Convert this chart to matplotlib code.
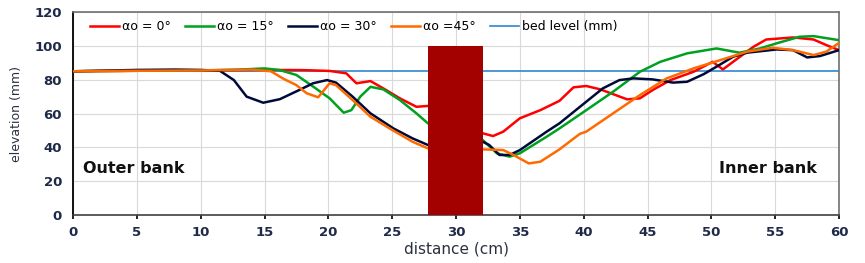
"""
Bed elevation profiles across the channel for several
inflow angles, with the pier block in the middle.
"""

import matplotlib.pyplot as plt

# ============================================================
# Data
# ============================================================

x_a0 = [0, 5, 10, 15, 18, 20.1, 21.4, 22.2, 23.3, 24.3, 25.6, 26.9, 27.8,
        32.1, 32.9, 33.7, 35.0, 36.6, 38.1, 39.2, 40.2, 41.3, 43.4, 44.4,
        45.4, 46.8, 48.6, 50.1, 50.9, 51.7, 53.3, 54.3, 56.4, 58.0, 59.0, 60]
y_a0 = [85, 85.3, 85.5, 85.8, 85.7, 85.2, 83.8, 77.9, 79.2, 74.9, 69, 64, 64.5,
        48.3, 46.7, 49.3, 57.2, 62, 67.5, 75.5, 76.3, 74.3, 68.4, 69,
        73.9, 79.8, 84.7, 90.6, 86.1, 90.6, 99.5, 103.8, 105, 103.8, 100.5, 97.5]

x_a15 = [0, 5, 10, 13, 15, 16.2, 17.5, 18.8, 20.1, 21.2, 21.8, 22.5, 23.3,
         24.3, 25.6, 26.9, 27.8, 32.1, 33.2, 34.2, 35.0, 37.1, 38.1, 40.2,
         42.3, 44.4, 46.0, 48.1, 50.4, 52.2, 53.8, 55.1, 56.9, 58.0, 60]
y_a15 = [85, 85.3, 85.5, 86, 86.7, 85.7, 82.8, 76, 69, 60.5, 62, 70, 75.8,
         74.3, 68, 60.1, 54.2, 44.3, 36.5, 34.5, 36.5, 46.3, 51.2, 62,
         72.9, 84.7, 90.6, 95.6, 98.5, 96, 98.5, 101.5, 105.4, 105.8, 103.4]

x_a30 = [0, 5, 8, 10, 11.5, 12.6, 13.6, 14.9, 16.2, 17.8, 18.8, 19.9, 20.6,
         21.9, 23.3, 25.1, 26.6, 27.8, 32.1, 32.6, 33.4, 34.2, 35.0, 37.1,
         38.1, 40.2, 41.5, 42.8, 43.9, 45.4, 47.0, 48.1, 49.4, 50.4, 51.7,
         52.8, 55.1, 56.4, 57.5, 58.5, 60]
y_a30 = [85, 85.8, 86, 85.8, 85.3, 79.8, 70, 66.4, 68.5, 74.2, 77.9, 79.8, 78.3,
         70, 60.1, 51.2, 45.3, 41.4, 43.3, 41.4, 35.5, 35.5, 38.4, 49.3,
         54.2, 67, 74.9, 79.8, 80.8, 80.2, 78.3, 78.8, 83.3, 87.7, 93.6,
         96, 97.9, 97.5, 93.2, 94, 97.5]

x_a45 = [0, 5, 10, 14, 15.5, 16.5, 17.5, 18.3, 19.2, 20.1, 20.6, 21.9, 23.3,
         24.8, 26.6, 27.8, 32.1, 33.7, 34.5, 35.7, 36.6, 38.1, 39.7, 40.2,
         42.3, 44.4, 46.5, 48.6, 50.7, 52.8, 54.8, 56.4, 58.0, 59.0, 60]
y_a45 = [85, 85.3, 85.5, 86, 85, 80.5, 76.8, 72, 69.6, 77.9, 76.8, 68, 58.1,
         51.2, 43.3, 39.4, 38.8, 38.4, 35.5, 30.5, 31.5, 38.8, 48, 49.3,
         60.1, 70.9, 80.8, 86.7, 91.6, 96.6, 98.9, 97.5, 94.6, 96.6, 101.8]

bed_level = 85

pier_left = 27.8
pier_right = 32.1
pier_height = 100

series = [
    ("αo = 0°", x_a0, y_a0, "#ff0000"),
    ("αo = 15°", x_a15, y_a15, "#00a020"),
    ("αo = 30°", x_a30, y_a30, "#000a3a"),
    ("αo =45°", x_a45, y_a45, "#ff6a00"),
]

NARROW = ["Liberation Sans Narrow", "DejaVu Sans"]


# ============================================================
# Plot
# ============================================================

def make_plot():

    fig = plt.figure(figsize=(8.65, 2.63), dpi=100)
    ax = fig.add_axes([0.0844, 0.1825, 0.8856, 0.7715])

    for label, xs, ys, color in series:
        ax.plot(xs, ys, color=color, lw=1.8, label=label,
                solid_joinstyle="round", zorder=3)

    ax.axhline(bed_level, color="#2f86d2", lw=1.2,
               label="bed level (mm)", zorder=2)

    # pier block, drawn over the profiles
    ax.bar((pier_left + pier_right) / 2, pier_height,
           width=pier_right - pier_left, color="#a30000", zorder=5)

    ax.set_xlim(0, 60)
    ax.set_ylim(0, 120)
    ax.set_xticks(range(0, 61, 5))
    ax.set_yticks(range(0, 121, 20))
    ax.grid(True, color="#d9d9d9", lw=0.8)
    ax.set_axisbelow(True)

    for side in ["top", "right"]:
        ax.spines[side].set_color("#707070")
        ax.spines[side].set_linewidth(1.2)
    ax.spines["left"].set_color("#000000")
    ax.spines["left"].set_linewidth(1.3)
    ax.spines["bottom"].set_color("#404040")
    ax.spines["bottom"].set_linewidth(1.2)

    ax.tick_params(axis="x", labelsize=9.5, labelcolor="#1f2a48",
                   color="#000000", length=3, width=1.2, pad=5)
    ax.tick_params(axis="y", labelsize=9.5, labelcolor="#1f2a48",
                   length=0, pad=8)
    for t in ax.get_xticklabels() + ax.get_yticklabels():
        t.set_fontweight("semibold")

    ax.set_xlabel("distance (cm)", fontsize=11, color="#2a3040", labelpad=2)
    ax.set_ylabel("elevation (mm)", fontsize=9, color="#2a3040",
                  family=NARROW, labelpad=8)

    ax.text(0.8, 25, "Outer bank", fontsize=11.5, fontweight="bold",
            color="#111111")
    ax.text(50.6, 25, "Inner bank", fontsize=11.5, fontweight="bold",
            color="#111111")

    ax.legend(loc="upper left", bbox_to_anchor=(0.012, 1.0), ncol=5,
              frameon=False, handlelength=2.3, columnspacing=1.15,
              handletextpad=0.25, borderaxespad=0.25,
              prop={"size": 9, "family": NARROW})

    fig.savefig("out.png", dpi=100)


# ============================================================
# Main
# ============================================================

if __name__ == "__main__":
    make_plot()
